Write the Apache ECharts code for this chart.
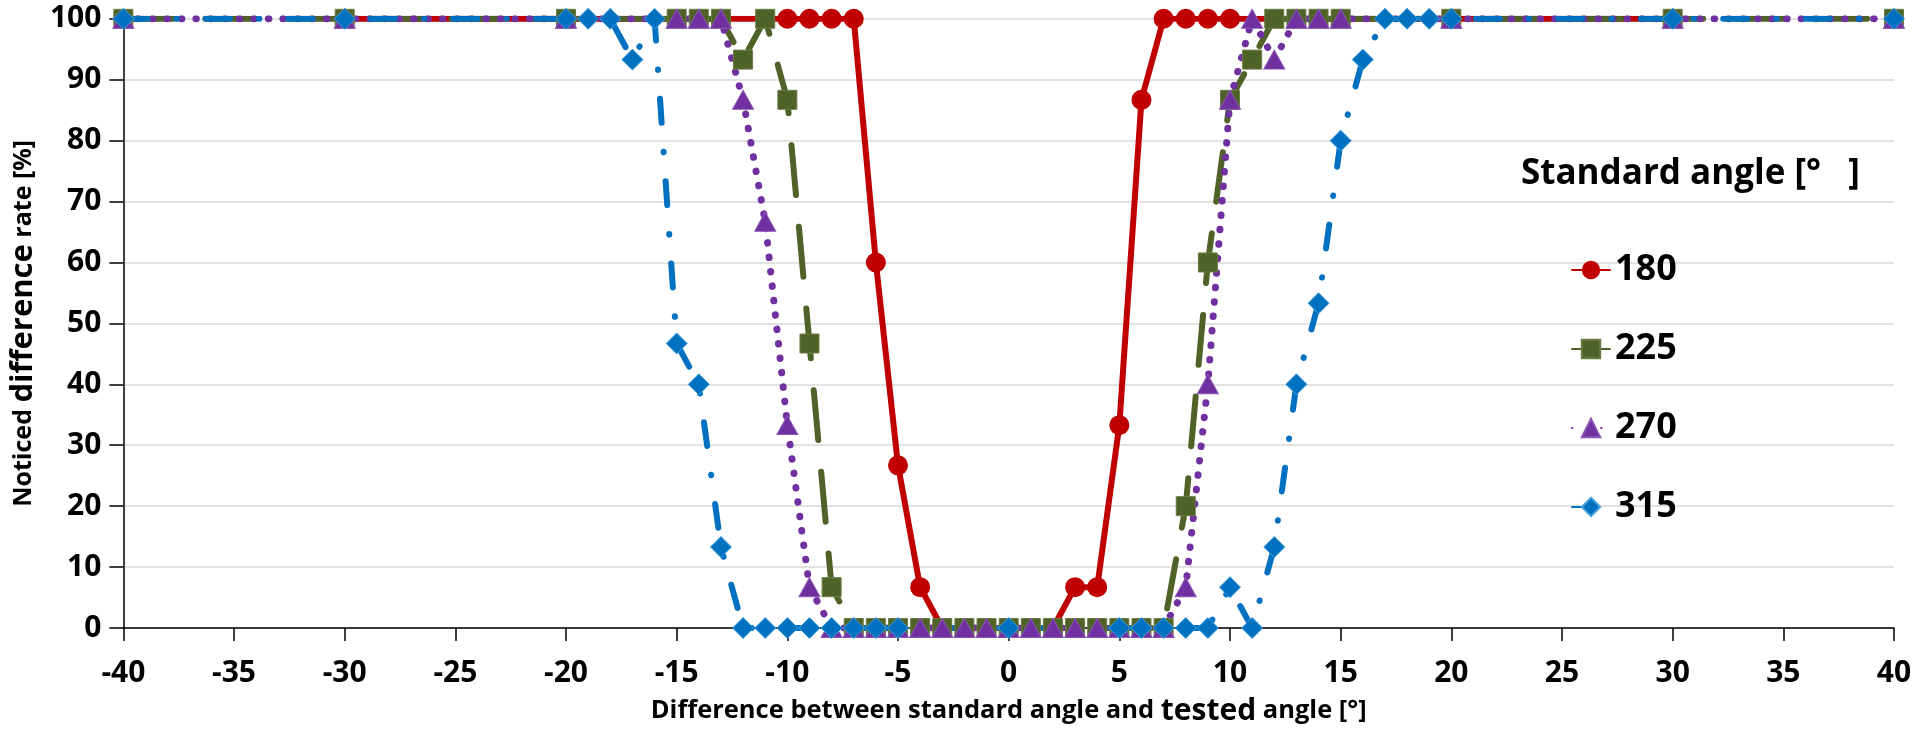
<!DOCTYPE html>
<html>
<head>
<meta charset="utf-8">
<script src="https://cdn.jsdelivr.net/npm/echarts@6/dist/echarts.min.js"></script>
<style>
html,body{margin:0;padding:0;background:#fff;}
#chart{width:1915px;height:731px;}
</style>
</head>
<body>
<div id="chart"></div>
<script>
// ---- data ----
const seriesNames = ['180', '225', '270', '315'];

const x180 = [-30, -20, -10, -9, -8, -7, -6, -5, -4, -3, -2, -1, 0, 1, 2, 3, 4, 5, 6, 7, 8, 9, 10, 20, 30];
const y180 = [100, 100, 100, 100, 100, 100, 60, 26.7, 6.7, 0, 0, 0, 0, 0, 0, 6.7, 6.7, 33.3, 86.7, 100, 100, 100, 100, 100, 100];

const x225 = [-40, -30, -20, -15, -14, -13, -12, -11, -10, -9, -8, -7, -6, -5, -4, -3, -2, -1, 0, 1, 2, 3, 4, 5, 6, 7, 8, 9, 10, 11, 12, 13, 14, 15, 20, 30, 40];
const y225 = [100, 100, 100, 100, 100, 100, 93.3, 100, 86.7, 46.7, 6.7, 0, 0, 0, 0, 0, 0, 0, 0, 0, 0, 0, 0, 0, 0, 0, 20, 60, 86.7, 93.3, 100, 100, 100, 100, 100, 100, 100];

const x270 = [-40, -30, -20, -15, -14, -13, -12, -11, -10, -9, -8, -7, -6, -5, -4, -3, -2, -1, 0, 1, 2, 3, 4, 5, 6, 7, 8, 9, 10, 11, 12, 13, 14, 15, 20, 30, 40];
const y270 = [100, 100, 100, 100, 100, 100, 86.7, 66.7, 33.3, 6.7, 0, 0, 0, 0, 0, 0, 0, 0, 0, 0, 0, 0, 0, 0, 0, 0, 6.7, 40, 86.7, 100, 93.3, 100, 100, 100, 100, 100, 100];

const x315 = [-40, -30, -20, -19, -18, -17, -16, -15, -14, -13, -12, -11, -10, -9, -8, -7, -6, -5, 0, 5, 6, 7, 8, 9, 10, 11, 12, 13, 14, 15, 16, 17, 18, 19, 20, 30, 40];
const y315 = [100, 100, 100, 100, 100, 93.3, 100, 46.7, 40, 13.3, 0, 0, 0, 0, 0, 0, 0, 0, 0, 0, 0, 0, 0, 0, 6.7, 0, 13.3, 40, 53.3, 80, 93.3, 100, 100, 100, 100, 100, 100];

const xTitle = ['Difference between standard angle and ', 'tested', ' angle [°]'];
const yTitle = ['Noticed ', 'difference', ' rate [%]'];
const legendTitle = 'Standard angle [°   ]';

// ---- build ----
function zip(xs, ys) { return xs.map((x, i) => [x, ys[i]]); }

const FONT = '"Open Sans", "Noto Sans", sans-serif';
const chart = echarts.init(document.getElementById('chart'), null, {renderer: 'canvas'});

const option = {
  backgroundColor: '#ffffff',
  animation: false,
  title: {
    text: legendTitle,
    left: 1516,
    top: 152,
    textStyle: {fontFamily: FONT, fontWeight: 'bold', fontSize: 35, color: '#000'}
  },
  legend: {
    orient: 'vertical',
    left: 1566,
    top: 245,
    itemWidth: 38,
    itemHeight: 23,
    itemGap: 39,
    data: seriesNames,
    textStyle: {fontFamily: FONT, fontWeight: 'bold', fontSize: 36, color: '#000', lineHeight: 40, padding: [0, 0, 0, 0]},
    selectedMode: false
  },
  grid: {left: 117.5, top: 18.8, width: 1776.5, height: 609.5, containLabel: false},
  xAxis: {
    type: 'value',
    min: -40, max: 40, interval: 5,
    name: '{a|' + xTitle[0] + '}{b|' + xTitle[1] + '}{a|' + xTitle[2] + '}',
    nameLocation: 'middle',
    nameGap: 68,
    nameTextStyle: {
      rich: {
        a: {fontFamily: FONT, fontWeight: 'bold', fontSize: 25.5, color: '#000'},
        b: {fontFamily: FONT, fontWeight: 'bold', fontSize: 30, color: '#000'}
      }
    },
    axisLine: {onZero: false, lineStyle: {color: '#000', width: 1.5}},
    axisTick: {inside: false, length: 13, lineStyle: {color: '#000', width: 1.5}},
    axisLabel: {fontFamily: FONT, fontWeight: 'bold', fontSize: 30, color: '#000', margin: 30},
    splitLine: {show: false}
  },
  yAxis: {
    type: 'value',
    min: 0, max: 100, interval: 10,
    name: '{a|' + yTitle[0] + '}{b|' + yTitle[1] + '}{a|' + yTitle[2] + '}',
    nameLocation: 'middle',
    nameRotate: 90,
    nameGap: 73,
    nameTextStyle: {
      rich: {
        a: {fontFamily: FONT, fontWeight: 'bold', fontSize: 25, color: '#000'},
        b: {fontFamily: FONT, fontWeight: 'bold', fontSize: 31, color: '#000'}
      }
    },
    axisLine: {show: true, onZero: false, lineStyle: {color: '#000', width: 1.5}},
    axisTick: {show: true, inside: false, length: 14, lineStyle: {color: '#000', width: 1.5}},
    axisLabel: {fontFamily: FONT, fontWeight: 'bold', fontSize: 30, color: '#000', margin: 22},
    splitLine: {show: true, lineStyle: {color: '#d9d9d9', width: 1.5}}
  },
  series: [
    {
      name: seriesNames[0], type: 'line', data: zip(x180, y180),
      symbol: 'circle', symbolSize: 20, showAllSymbol: true,
      itemStyle: {color: '#C00000'},
      lineStyle: {color: '#C00000', width: 6, type: 'solid', cap: 'round', join: 'round'}
    },
    {
      name: seriesNames[1], type: 'line', data: zip(x225, y225),
      symbol: 'rect', symbolSize: 19, showAllSymbol: true,
      itemStyle: {color: '#4F6228', borderColor: '#6a7d44', borderWidth: 1},
      lineStyle: {color: '#4F6228', width: 6, type: [50, 32], cap: 'round', join: 'round'}
    },
    {
      name: seriesNames[2], type: 'line', data: zip(x270, y270),
      symbol: 'triangle', symbolSize: [21, 19], showAllSymbol: true,
      itemStyle: {color: '#7030A0', borderColor: '#8a55b5', borderWidth: 1},
      lineStyle: {color: '#7030A0', width: 7, type: [0.5, 14], cap: 'round', join: 'round'}
    },
    {
      name: seriesNames[3], type: 'line', data: zip(x315, y315),
      symbol: 'diamond', symbolSize: 21, showAllSymbol: true,
      itemStyle: {color: '#0070C0', borderColor: '#3fa0dc', borderWidth: 1},
      lineStyle: {color: '#0070C0', width: 6, type: [24, 29, 0.5, 29], cap: 'round', join: 'round'}
    }
  ]
};
chart.setOption(option);
</script>
</body>
</html>
